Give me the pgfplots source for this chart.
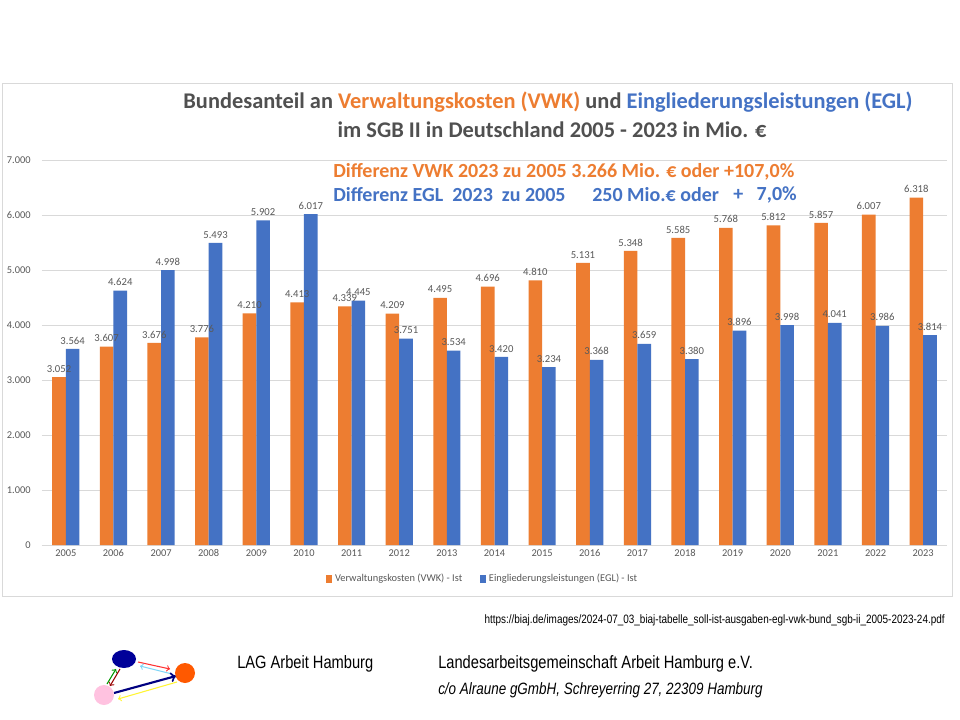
\documentclass[border=0pt]{standalone}
\usepackage{fontspec}
\setmainfont{Carlito}
\newfontfamily\narrow[FakeStretch=0.82]{Liberation Sans}
\usepackage{pgfplots}
\pgfplotsset{compat=1.18}
\definecolor{vwk}{HTML}{ED7D31}
\definecolor{egl}{HTML}{4472C4}
\definecolor{txt}{HTML}{595959}
\definecolor{ttl}{HTML}{505050}
\definecolor{grd}{HTML}{D9D9D9}
\begin{document}
\begin{tikzpicture}[x=0.75pt,y=-0.75pt]
\fill[white] (0,0) rectangle (960,720);
\draw[grd, line width=0.75pt] (2,84) rectangle (952,596);
\begin{axis}[
  at={(31.5pt,-408.75pt)}, anchor=south west, scale only axis,
  width=678.75pt, height=288.75pt,
  ybar=0pt, bar width=10.2pt,
  xmin=-0.5, xmax=18.5, ymin=0, ymax=7000,
  xtick={0,...,18},
  xticklabels={2005,2006,2007,2008,2009,2010,2011,2012,2013,2014,2015,2016,2017,2018,2019,2020,2021,2022,2023},
  ytick={0,1000,...,7000},
  /pgf/number format/.cd, fixed, precision=0, 1000 sep={.}, assume math mode=true, /pgfplots/.cd,
  ymajorgrids, grid style={grd, line width=0.75pt},
  axis x line*=bottom, axis y line*=left,
  x axis line style={grd, line width=0.75pt},
  y axis line style={draw=none},
  major tick length=0pt,
  ticklabel style={text=txt, font=\fontsize{7.8}{9}\selectfont},
  yticklabel style={xshift=-5pt},
  nodes near coords,
  nodes near coords style={text=txt, font=\fontsize{8}{9}\selectfont},
  legend style={at={(0.487,-0.088)}, anchor=center, legend columns=2, draw=none, fill=none,
    font=\fontsize{7.8}{9}\selectfont, text=txt, /tikz/every even column/.append style={column sep=11pt}},
  legend image code/.code={\fill[#1] (0pt,-3pt) rectangle (5pt,3pt);},
]
\addplot[fill=vwk, draw=none] coordinates {
(0,3052) (1,3607) (2,3676) (3,3776) (4,4210) (5,4413) (6,4339) (7,4209) (8,4495) (9,4696)
(10,4810) (11,5131) (12,5348) (13,5585) (14,5768) (15,5812) (16,5857) (17,6007) (18,6318)};
\addplot[fill=egl, draw=none] coordinates {
(0,3564) (1,4624) (2,4998) (3,5493) (4,5902) (5,6017) (6,4445) (7,3751) (8,3534) (9,3420)
(10,3234) (11,3368) (12,3659) (13,3380) (14,3896) (15,3998) (16,4041) (17,3986) (18,3814)};
\legend{Verwaltungskosten (VWK) - Ist, Eingliederungsleistungen (EGL) - Ist}
\end{axis}
% titles
\node[font=\bfseries\fontsize{16.8}{20}\selectfont, text=ttl] at (548,102)
  {Bundesanteil an \textcolor{vwk}{Verwaltungskosten (VWK)} und \textcolor{egl}{Eingliederungsleistungen (EGL)}};
\node[font=\bfseries\fontsize{16.8}{20}\selectfont, text=ttl] at (552,130)
  {im SGB II in Deutschland 2005 - 2023 in Mio. €};
\node[font=\bfseries\fontsize{15}{18}\selectfont, text=vwk, anchor=west, inner sep=0pt] at (333,172)
  {Differenz VWK 2023 zu 2005 3.266 Mio. € oder +107,0\%};
\node[font=\bfseries\fontsize{15}{18}\selectfont, text=egl, anchor=west, inner sep=0pt] at (333,195)
  {Differenz EGL\ \ 2023\ \ zu 2005};
\node[font=\bfseries\fontsize{15}{18}\selectfont, text=egl, anchor=west, inner sep=0pt] at (592,195)
  {250 Mio.€ oder};
\node[font=\bfseries\fontsize{15}{18}\selectfont, text=egl, anchor=west, inner sep=0pt] at (733,195) {+};
\node[font=\bfseries\fontsize{15}{18}\selectfont, text=egl, anchor=east, inner sep=0pt] at (797,195) {7,0\%};
% source and footer
\node[font=\narrow\fontsize{9.1}{10}\selectfont, anchor=east, inner sep=0pt] at (945,620)
  {https://biaj.de/images/2024-07\_03\_biaj-tabelle\_soll-ist-ausgaben-egl-vwk-bund\_sgb-ii\_2005-2023-24.pdf};
\node[font=\narrow\fontsize{13.4}{15}\selectfont, anchor=west, inner sep=0pt] at (237,664) {LAG Arbeit Hamburg};
\node[font=\narrow\fontsize{13.4}{15}\selectfont, anchor=west, inner sep=0pt] at (438,664) {Landesarbeitsgemeinschaft Arbeit Hamburg e.V.};
\node[font=\narrow\itshape\fontsize{12.3}{15}\selectfont, anchor=west, inner sep=0pt] at (438,690) {c/o Alraune gGmbH, Schreyerring 27, 22309 Hamburg};
% logo
\draw[->, red!80, line width=0.8pt] (138,662) -- (170,669);
\draw[->, cyan!50, line width=0.8pt] (172,674) -- (140,666);
\draw[->, green!60!black, line width=0.8pt] (107,684) -- (116,669);
\draw[->, red!60!black, line width=0.8pt] (120,669) -- (110,686);
\draw[->, blue!50!black, line width=1.6pt] (114,693) -- (176,676);
\draw[->, yellow!80, line width=0.8pt] (177,682) -- (118,699);
\fill[blue!60!black] (124,659) ellipse (12 and 9);
\fill[orange!70!red] (185,673) circle (10);
\fill[pink!80!magenta!60] (104,695) circle (10);
\end{tikzpicture}
\end{document}
